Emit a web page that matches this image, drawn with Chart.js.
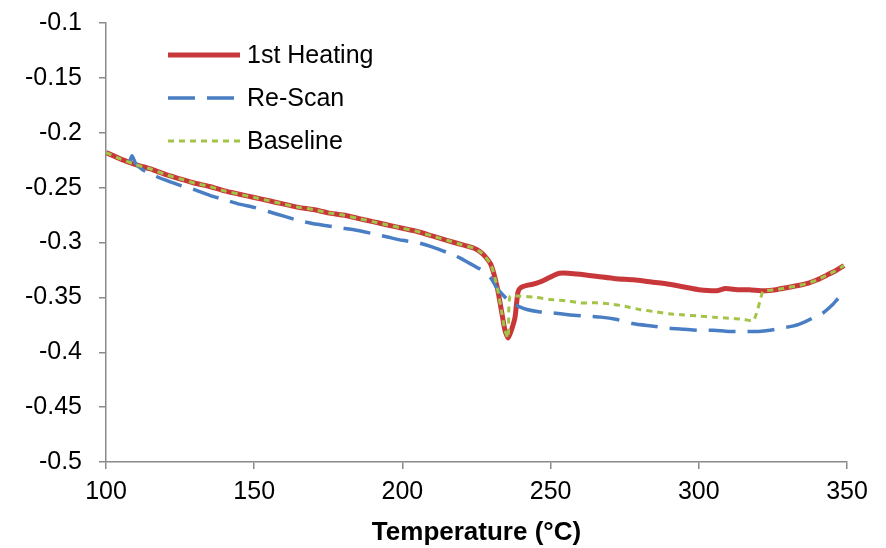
<!DOCTYPE html>
<html>
<head>
<meta charset="utf-8">
<script src="https://cdn.jsdelivr.net/npm/chart.js@4.4.1/dist/chart.umd.min.js"></script>
<style>
   html, body { margin: 0; padding: 0; background: #fff; }
   #wrap { width: 886px; height: 548px; }
</style>
</head>
<body>
<div id="wrap"><canvas id="dsc-chart" width="886" height="548"></canvas></div>
<script>
const seriesNames = ["1st Heating", "Re-Scan", "Baseline"];
const seriesColours = ["#C8383A", "#4A7EC4", "#A3C447"];

const xTicks = [100, 150, 200, 250, 300, 350];
const yTicks = [-0.5, -0.45, -0.4, -0.35, -0.3, -0.25, -0.2, -0.15, -0.1];

const heatingT = [100, 105, 110, 115, 120, 125, 130, 135, 140, 145, 150, 155, 160, 165, 170, 175, 180, 185, 190, 195, 200, 205, 210, 215, 220, 224, 226, 228, 230, 232, 233.6, 234.6, 235.7, 237, 238, 239, 240, 242, 244, 246.4, 248.8, 251, 253, 256, 260, 266, 272, 278, 284, 290, 296, 300, 306, 309, 313, 317, 322, 326, 330, 334, 337, 340, 343, 346, 349];
const heatingV = [-0.218, -0.224, -0.229, -0.233, -0.238, -0.242, -0.246, -0.249, -0.253, -0.256, -0.259, -0.262, -0.265, -0.268, -0.270, -0.273, -0.275, -0.278, -0.281, -0.284, -0.287, -0.290, -0.294, -0.298, -0.302, -0.305, -0.308, -0.313, -0.321, -0.341, -0.365, -0.380, -0.387, -0.378, -0.368, -0.345, -0.341, -0.339, -0.338, -0.336, -0.333, -0.330, -0.328, -0.328, -0.329, -0.331, -0.333, -0.334, -0.336, -0.338, -0.341, -0.343, -0.344, -0.342, -0.343, -0.343, -0.344, -0.343, -0.341, -0.339, -0.337, -0.334, -0.330, -0.326, -0.321];

const rescanT = [108, 108.8, 110, 112.5, 115, 118, 122, 126, 130, 135, 140, 145, 150, 155, 160, 165, 170, 175, 180, 185, 190, 195, 200, 205, 210, 215, 219.4, 222, 224, 226, 228, 230, 232, 234, 236.3, 239, 242, 246, 250, 256.6, 262, 267, 272, 278, 284, 290, 295, 300, 305, 310, 315, 320, 324, 328, 332, 336, 339, 342, 345, 347];
const rescanV = [-0.226, -0.221, -0.228, -0.234, -0.237, -0.241, -0.245, -0.249, -0.252, -0.257, -0.261, -0.265, -0.268, -0.272, -0.276, -0.280, -0.283, -0.285, -0.287, -0.289, -0.292, -0.295, -0.298, -0.300, -0.304, -0.309, -0.314, -0.318, -0.321, -0.324, -0.328, -0.333, -0.342, -0.348, -0.354, -0.358, -0.361, -0.363, -0.364, -0.366, -0.367, -0.368, -0.370, -0.374, -0.376, -0.378, -0.379, -0.380, -0.380, -0.381, -0.381, -0.381, -0.380, -0.378, -0.376, -0.372, -0.368, -0.364, -0.357, -0.351];

const baselineT = [100, 105, 110, 115, 120, 125, 130, 135, 140, 145, 150, 155, 160, 165, 170, 175, 180, 185, 190, 195, 200, 205, 210, 215, 220, 224, 226, 228, 230, 232, 233.6, 234.6, 235.7, 236.3, 240, 245, 250, 255, 260, 265, 270, 275, 280, 285, 290, 295, 300, 305, 310, 315, 318.5, 321.5, 322, 326, 330, 334, 337, 340, 343, 346, 349];
const baselineV = [-0.218, -0.224, -0.229, -0.233, -0.238, -0.242, -0.246, -0.249, -0.253, -0.256, -0.259, -0.262, -0.265, -0.268, -0.270, -0.273, -0.275, -0.278, -0.281, -0.284, -0.287, -0.290, -0.294, -0.298, -0.302, -0.305, -0.308, -0.313, -0.321, -0.341, -0.365, -0.380, -0.387, -0.349, -0.349, -0.350, -0.352, -0.353, -0.355, -0.355, -0.356, -0.358, -0.361, -0.363, -0.365, -0.366, -0.367, -0.368, -0.369, -0.370, -0.371, -0.345, -0.344, -0.343, -0.341, -0.339, -0.337, -0.334, -0.330, -0.326, -0.321];

Chart.defaults.font.family = "'Liberation Sans', Arial, sans-serif";
Chart.defaults.color = "#000";

function toPoints(xs, ys) {
   return xs.map((x, i) => ({ x: x, y: ys[i] }));
}

function fmtTick(v) {
   return String(Math.round(v * 100) / 100);
}

// legend sits inside the plot, top-left, like the original
const insideLegend = {
   id: "insideLegend",
   afterDraw(chart) {
      const ctx = chart.ctx;
      const rows = [55, 98, 141];
      ctx.save();
      chart.data.datasets.forEach((ds, i) => {
         const y = rows[ds.legendRow];
         ctx.strokeStyle = ds.borderColor;
         ctx.lineWidth = ds.borderWidth;
         ctx.setLineDash(ds.borderDash || []);
         ctx.lineCap = "butt";
         ctx.beginPath();
         ctx.moveTo(168, y);
         ctx.lineTo(240, y);
         ctx.stroke();
         ctx.setLineDash([]);
         ctx.fillStyle = "#000";
         ctx.font = "25px 'Liberation Sans', Arial, sans-serif";
         ctx.textBaseline = "middle";
         ctx.fillText(ds.label, 247, y + 1);
      });
      ctx.restore();
   }
};

const axisGrey = "#8a8a8a";

const config = {
   type: "line",
   data: {
      datasets: [
         {
            label: seriesNames[0],
            legendRow: 0,
            data: toPoints(heatingT, heatingV),
            borderColor: seriesColours[0],
            borderWidth: 5,
            order: 3
         },
         {
            label: seriesNames[1],
            legendRow: 1,
            data: toPoints(rescanT, rescanV),
            borderColor: seriesColours[1],
            borderWidth: 3.5,
            borderDash: [27, 12],
            order: 2
         },
         {
            label: seriesNames[2],
            legendRow: 2,
            data: toPoints(baselineT, baselineV),
            borderColor: seriesColours[2],
            borderWidth: 3,
            borderDash: [6, 5],
            order: 1
         }
      ]
   },
   options: {
      responsive: false,
      animation: false,
      events: [],
      elements: {
         point: { radius: 0 },
         line: { tension: 0.2, fill: false }
      },
      layout: { padding: { top: 23, right: 39, bottom: 0, left: 0 } },
      plugins: {
         legend: { display: false },
         tooltip: { enabled: false }
      },
      scales: {
         x: {
            type: "linear",
            min: 100,
            max: 350,
            afterBuildTicks: scale => { scale.ticks = xTicks.map(v => ({ value: v })); },
            afterFit: scale => {
               scale.height = 86;
               scale.paddingLeft = 0;
               scale.paddingRight = 0;
            },
            ticks: {
               font: { size: 25 },
               padding: 8,
               maxRotation: 0,
               callback: v => String(v)
            },
            grid: {
               drawOnChartArea: false,
               drawTicks: true,
               tickLength: 7,
               color: axisGrey,
               lineWidth: 1.5
            },
            border: { color: axisGrey, width: 1.5 },
            title: {
               display: true,
               text: "Temperature (°C)",
               font: { size: 26, weight: "bold" },
               padding: { top: 2, bottom: 0 }
            }
         },
         y: {
            type: "linear",
            min: -0.5,
            max: -0.1,
            afterBuildTicks: scale => { scale.ticks = yTicks.map(v => ({ value: v })); },
            afterFit: scale => {
               scale.width = 106;
               scale.paddingTop = 0;
               scale.paddingBottom = 0;
            },
            ticks: {
               font: { size: 25 },
               padding: 17,
               callback: v => fmtTick(v)
            },
            grid: {
               drawOnChartArea: false,
               drawTicks: true,
               tickLength: 7,
               color: axisGrey,
               lineWidth: 1.5
            },
            border: { color: axisGrey, width: 1.5 }
         }
      }
   },
   plugins: [insideLegend]
};

new Chart("dsc-chart", config);
</script>
</body>
</html>
